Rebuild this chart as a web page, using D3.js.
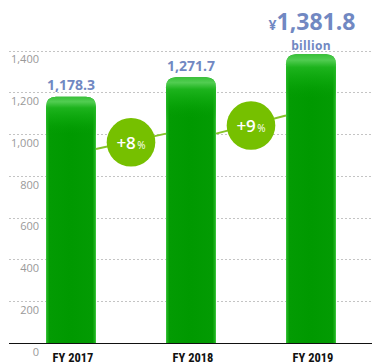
<!DOCTYPE html>
<html>
<head>
<meta charset="utf-8">
<script src="https://cdn.jsdelivr.net/npm/d3@7/dist/d3.min.js"></script>
<style>
  html, body { margin: 0; padding: 0; background: #fff; }
  svg { display: block; }
</style>
</head>
<body>
<svg id="chart" width="377" height="363"></svg>
<script>
  // ── data ──
  const years = ["FY 2017", "FY 2018", "FY 2019"];
  const sales = [1178.3, 1271.7, 1381.8];
  const valueLabels = ["1,178.3", "1,271.7", "1,381.8"];
  const growth = ["+8", "+9"];
  const yTicks = [0, 200, 400, 600, 800, 1000, 1200, 1400];

  (function () {
    const gridL = 9, gridR = 372, base = 343, plotTop = 50.5;
    const barW = 50;

    const svg = d3.select("#chart");
    const defs = svg.append("defs");

    const y = d3.scaleLinear().domain([0, 1400]).range([base, plotTop]);
    const x = d3.scalePoint().domain(years).range([71, 311]);

    /* gradients */
    const hg = defs.append("linearGradient").attr("id", "barH").attr("x1", 0).attr("x2", 1).attr("y1", 0).attr("y2", 0);
    [[0, "#3fc83f"], [0.03, "#1aae1a"], [0.07, "#039b03"], [0.5, "#009900"], [0.93, "#039b03"], [0.97, "#1aae1a"], [1, "#44cc44"]]
      .forEach(([o, c]) => hg.append("stop").attr("offset", o).attr("stop-color", c));
    const vg = defs.append("linearGradient").attr("id", "barV").attr("x1", 0).attr("x2", 0).attr("y1", 0).attr("y2", 1);
    [[0, "#3cc43c", 0.95], [0.02, "#5ad25a", 0.9], [0.045, "#22b822", 0.85], [0.1, "#10ac10", 0.5], [0.16, "#009900", 0], [1, "#009900", 0]]
      .forEach(([o, c, a]) => vg.append("stop").attr("offset", o).attr("stop-color", c).attr("stop-opacity", a));

    /* grid */
    svg.append("g").selectAll("line").data(yTicks.filter((d) => d > 0)).join("line")
      .attr("x1", gridL).attr("x2", gridR)
      .attr("y1", (d) => Math.round(y(d)) + 0.5).attr("y2", (d) => Math.round(y(d)) + 0.5)
      .attr("stroke", "#c4c4c4").attr("stroke-width", 1).attr("stroke-dasharray", "2,2");

    /* tick labels */
    svg.append("g").selectAll("text").data(yTicks).join("text")
      .attr("x", 39).attr("y", (d) => y(d) + 12.7)
      .attr("text-anchor", "end")
      .attr("font-family", "'Open Sans', sans-serif").attr("font-size", 11)
      .attr("fill", "#999")
      .text((d) => d3.format(",")(d));

    /* growth line (behind bars) */
    const lineFrac = 0.788;
    const segs = growth.map((g, i) => {
      const x1 = x(years[i]) + barW / 2, x2 = x(years[i + 1]) - barW / 2;
      return { g, x1, y1: y(sales[i] * lineFrac), x2, y2: y(sales[i + 1] * lineFrac) };
    });
    svg.append("g").selectAll("line").data(segs).join("line")
      .attr("x1", (d) => d.x1).attr("y1", (d) => d.y1)
      .attr("x2", (d) => d.x2).attr("y2", (d) => d.y2)
      .attr("stroke", "#86c42a").attr("stroke-width", 2);

    /* bars */
    const r = 10;
    function barPath(cx, yt) {
      const x0 = cx - barW / 2, x1 = cx + barW / 2;
      return `M${x0},${base}V${yt + r}Q${x0},${yt} ${x0 + r},${yt}H${x1 - r}Q${x1},${yt} ${x1},${yt + r}V${base}Z`;
    }
    const bars = svg.append("g").selectAll("g").data(sales).join("g");
    bars.append("path")
      .attr("d", (d, i) => barPath(x(years[i]), y(d)))
      .attr("fill", "url(#barH)");
    bars.append("path")
      .attr("d", (d, i) => barPath(x(years[i]), y(d)))
      .attr("fill", "url(#barV)");

    /* baseline */
    svg.append("line").attr("x1", gridL).attr("x2", gridR).attr("y1", base + 0.5).attr("y2", base + 0.5)
      .attr("stroke", "#111").attr("stroke-width", 1.2);

    /* growth bubbles */
    const bub = svg.append("g").selectAll("g").data(segs).join("g")
      .attr("transform", (d) => `translate(${(d.x1 + d.x2) / 2},${(d.y1 + d.y2) / 2 + 1})`);
    bub.append("circle").attr("r", 24.3).attr("fill", "#76c000");
    const bt = bub.append("text").attr("text-anchor", "middle").attr("y", 6.5)
      .attr("font-family", "'Open Sans', sans-serif").attr("fill", "#fff");
    bt.append("tspan").attr("font-size", 17).attr("font-weight", 600).text((d) => d.g);
    bt.append("tspan").attr("font-size", 10).attr("dx", 1.5).text("%");

    /* value labels */
    const vl = svg.append("g").selectAll("text").data(sales).join("text")
      .attr("x", (d, i) => x(years[i]) + (i === 2 ? 1 : 0))
      .attr("y", (d, i) => (i === 2 ? 30 : y(d) - 6.5))
      .attr("text-anchor", "middle")
      .attr("font-family", "'Open Sans', sans-serif").attr("font-weight", 700)
      .attr("fill", "#7188c2");
    vl.filter((d, i) => i === 2).append("tspan").attr("font-size", 14).text("¥");
    vl.append("tspan")
      .attr("font-size", (d, i) => (i === 2 ? 23 : 14))
      .text((d, i) => valueLabels[i]);

    svg.append("text")
      .attr("x", x(years[2])).attr("y", 50)
      .attr("text-anchor", "middle")
      .attr("font-family", "'Open Sans', sans-serif").attr("font-weight", 700)
      .attr("font-size", 12).attr("letter-spacing", 0.3)
      .attr("fill", "#7188c2")
      .text("billion");

    /* x labels */
    svg.append("g").selectAll("text").data(years).join("text")
      .attr("x", (d) => x(d) + 2).attr("y", 361.5)
      .attr("text-anchor", "middle")
      .attr("font-family", "'Liberation Sans Narrow', 'Roboto Condensed', 'Liberation Sans', sans-serif")
      .attr("font-weight", 700).attr("font-size", 12.5)
      .attr("fill", "#111")
      .text((d) => d);
  })();
</script>
</body>
</html>
